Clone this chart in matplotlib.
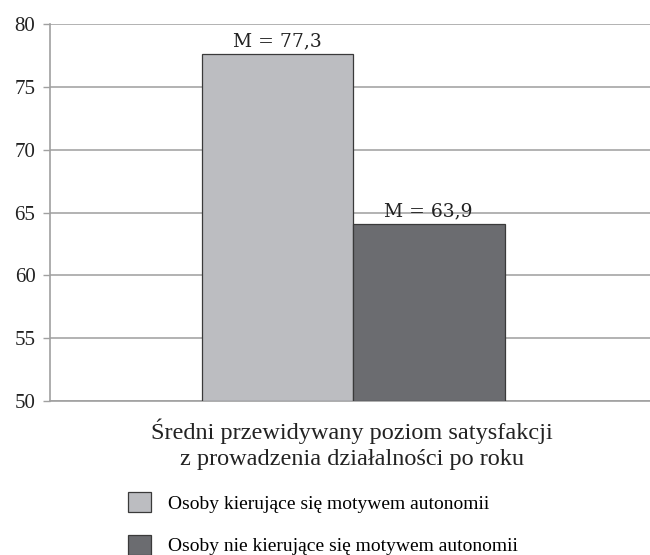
import matplotlib.pyplot as plt
from matplotlib.patches import Patch

# Data
groups = ['Osoby kierujące się motywem autonomii',
          'Osoby nie kierujące się motywem autonomii']
bar_values = [77.6, 64.1]
bar_labels = ['M = 77,3', 'M = 63,9']
y_ticks = [50, 55, 60, 65, 70, 75, 80]
x_title = 'Średni przewidywany poziom satysfakcji\nz prowadzenia działalności po roku'

colors = ['#bcbdc1', '#6b6c70']
serif = ['Liberation Serif', 'DejaVu Serif']
wide_serif = ['DejaVu Serif', 'Liberation Serif']

fig = plt.figure(figsize=(6.5, 5.55), dpi=100)
ax = fig.add_axes([50 / 650, 1 - 401 / 555, 606 / 650, 377 / 555])

positions = [-0.5, 0.5]
ax.bar(positions, [v - 50 for v in bar_values], bottom=50, width=1.0,
       color=colors, edgecolor='#3a3a3a', linewidth=0.9, zorder=3)

for x, v, lab in zip(positions, bar_values, bar_labels):
    ax.text(x, v + 0.62, lab, ha='center', va='baseline',
            fontsize=13.5, family=wide_serif, color='#222222', zorder=4)

ax.set_xlim(-2.0, 2.0)
ax.set_ylim(50, 80)
ax.set_yticks(y_ticks)
ax.set_yticklabels([str(t) for t in y_ticks], family=serif, fontsize=15, color='#222222')
ax.set_xticks([])
ax.tick_params(axis='y', length=5, width=1, color='#a0a0a0', pad=5.5)

ax.grid(axis='y', color='#a6a6a6', linewidth=1.2, zorder=0)
for side in ['top', 'right']:
    ax.spines[side].set_visible(False)
ax.spines['left'].set_color('#a0a0a0')
ax.spines['left'].set_linewidth(1.2)
ax.spines['bottom'].set_color('#a0a0a0')
ax.spines['bottom'].set_linewidth(1.2)

fig.text(352 / 650, 1 - 444 / 555, x_title, ha='center', va='center',
         fontsize=17.5, family=serif, color='#222222', linespacing=1.3)

handles = [Patch(facecolor=c, edgecolor='#3a3a3a', linewidth=0.9) for c in colors]
fig.legend(handles, groups, loc='upper left',
           bbox_to_anchor=(128 / 650, 1 - 492 / 555), frameon=False,
           prop={'family': serif, 'size': 14}, handlelength=1.2, handleheight=1.2,
           handletextpad=0.85, labelspacing=1.15, borderpad=0, borderaxespad=0)

fig.savefig('out.png', dpi=100)
